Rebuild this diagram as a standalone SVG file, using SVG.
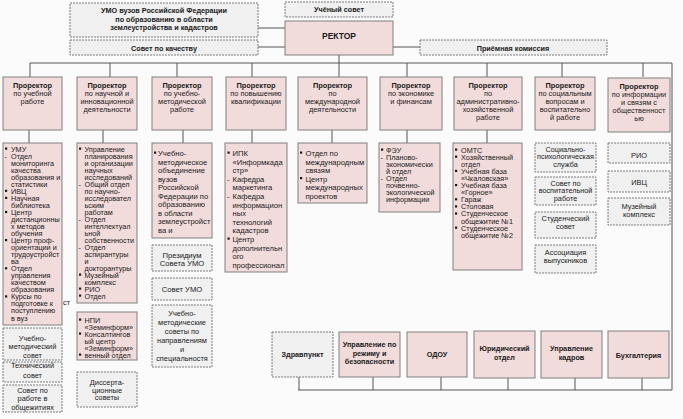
<svg xmlns="http://www.w3.org/2000/svg" width="683" height="419" viewBox="0 0 683 419">
<style>
.p{fill:#f2dcdb;stroke:#808080;stroke-width:1}
.g{fill:#f0f0f0;stroke:#7a7a7a;stroke-width:1;stroke-dasharray:2 1}
.ln{stroke:#555;stroke-width:1;fill:none}
text{font-family:"Liberation Sans",Arial,sans-serif;fill:#1a1a1a}
.t{font-size:7.25px}
.m{font-size:7.6px}
.s{font-size:7.4px}
.b{font-weight:bold}
.c{text-anchor:middle}
.bu{fill:#1a1a1a}
</style>
<defs><rect id="bl" width="2.2" height="2.2" class="bu"/></defs>
<rect x="0" y="0" width="683" height="419" fill="#fbfbfb"/>

<g id="connectors" class="ln">
<path d="M258 28H285M258 47H285M393 47H420M339 55V77"/>
<path d="M30 63H672V390H298"/>
<path d="M30 63V77M110 63V77M177 63V77M252 63V77M407 63V77M487 63V77M562 63V77M643 63V77"/>
<path d="M29 130V143M103 130V143M183 130V143M252 130V143M332 130V143M407 130V143M487 130V143"/>
<path d="M299 377V390M373 377V390M441 377V390M508 377V390M575 377V390M642 377V390"/>
</g>

<g id="umo"><rect class="g" x="70" y="3" width="188" height="34"/>
<text class="t b c" x="164"><tspan x="164" y="13">УМО вузов Российской Федерации</tspan><tspan x="164" y="21.5">по образованию в области</tspan><tspan x="164" y="30">землеустройства и кадастров</tspan></text></g>
<g id="sovet-kach"><rect class="g" x="70" y="40" width="188" height="15"/><text class="t b c" x="164" y="50.5">Совет по качеству</text></g>
<g id="uch-sovet"><rect class="g" x="285" y="2" width="108" height="15"/><text class="t b c" x="339" y="12">Учёный совет</text></g>
<g id="rector"><rect class="p" x="285" y="21" width="108" height="34"/><text class="b c" style="font-size:8.5px" x="339" y="39">РЕКТОР</text></g>
<g id="priem"><rect class="g" x="420" y="40" width="187" height="15"/><text class="t b c" x="513" y="50.5">Приёмная комиссия</text></g>

<g id="pr1"><rect class="p" x="3" y="77" width="59" height="53"/><text class="s c"><tspan class="b" x="32.5" y="88">Проректор</tspan><tspan x="32.5" y="96">по учебной</tspan><tspan x="32.5" y="104">работе</tspan></text></g>
<g id="pr2"><rect class="p" x="77" y="77" width="60" height="53"/><text class="s c"><tspan class="b" x="107" y="88">Проректор</tspan><tspan x="107" y="96">по научной и</tspan><tspan x="107" y="104">инновационной</tspan><tspan x="107" y="112">деятельности</tspan></text></g>
<g id="pr3"><rect class="p" x="152" y="77" width="60" height="53"/><text class="s c"><tspan class="b" x="182" y="88">Проректор</tspan><tspan x="182" y="96">по учебно-</tspan><tspan x="182" y="104">методической</tspan><tspan x="182" y="112">работе</tspan></text></g>
<g id="pr4"><rect class="p" x="226" y="77" width="60" height="53"/><text class="s c"><tspan class="b" x="256" y="88">Проректор</tspan><tspan x="256" y="96">по повышению</tspan><tspan x="256" y="104">квалификации</tspan></text></g>
<g id="pr5"><rect class="p" x="298" y="77" width="69" height="53"/><text class="s c"><tspan class="b" x="332.5" y="88">Проректор</tspan><tspan x="332.5" y="96">по</tspan><tspan x="332.5" y="104">международной</tspan><tspan x="332.5" y="112">деятельности</tspan></text></g>
<g id="pr6"><rect class="p" x="380" y="77" width="62" height="53"/><text class="s c"><tspan class="b" x="411" y="88">Проректор</tspan><tspan x="411" y="96">по экономике</tspan><tspan x="411" y="104">и финансам</tspan></text></g>
<g id="pr7"><rect class="p" x="454" y="77" width="68" height="53"/><text class="s c"><tspan class="b" x="488" y="88">Проректор</tspan><tspan x="488" y="96">по</tspan><tspan x="488" y="104">административно-</tspan><tspan x="488" y="112">хозяйственной</tspan><tspan x="488" y="120">работе</tspan></text></g>
<g id="pr8"><rect class="p" x="535" y="77" width="60" height="53"/><text class="s c"><tspan class="b" x="565" y="88">Проректор</tspan><tspan x="565" y="96">по социальным</tspan><tspan x="565" y="104">вопросам и</tspan><tspan x="565" y="112">воспитательно</tspan><tspan x="565" y="120">й работе</tspan></text></g>
<g id="pr9"><rect class="p" x="608" y="78" width="62" height="54"/><text class="s c"><tspan class="b" x="639" y="89">Проректор</tspan><tspan x="639" y="97">по информации</tspan><tspan x="639" y="105">и связям с</tspan><tspan x="639" y="113">общественност</tspan><tspan x="639" y="121">ью</tspan></text></g>

<g id="d1"><rect class="p" x="3" y="143" width="59" height="182"/>
<use href="#bl" x="5" y="147.5"/><use href="#bl" x="5" y="189.7"/><use href="#bl" x="5" y="196.8"/><use href="#bl" x="5" y="210.9"/><use href="#bl" x="5" y="239"/><use href="#bl" x="5" y="267.2"/><use href="#bl" x="5" y="295.3"/>
<text class="t"><tspan x="4.5" y="158.5">-</tspan><tspan x="11" y="151.5">УМУ</tspan><tspan x="11" y="158.5">Отдел</tspan><tspan x="11" y="165.6">мониторинга</tspan><tspan x="11" y="172.6">качества</tspan><tspan x="11" y="179.7">образования и</tspan><tspan x="11" y="186.7">статистики</tspan><tspan x="11" y="193.7">ИВЦ</tspan><tspan x="11" y="200.8">Научная</tspan><tspan x="11" y="207.8">библиотека</tspan><tspan x="11" y="214.9">Центр</tspan><tspan x="11" y="221.9">дистанционны</tspan><tspan x="11" y="228.9">х методов</tspan><tspan x="11" y="236">обучения</tspan><tspan x="11" y="243">Центр проф-</tspan><tspan x="11" y="250.1">ориентации и</tspan><tspan x="11" y="257.1">трудоустройст</tspan><tspan x="11" y="264.1">ва</tspan><tspan x="11" y="271.2">Отдел</tspan><tspan x="11" y="278.2">управления</tspan><tspan x="11" y="285.3">качеством</tspan><tspan x="11" y="292.3">образования</tspan><tspan x="11" y="299.3">Курсы по</tspan><tspan x="11" y="306.4">подготовке к</tspan><tspan x="11" y="313.4">поступлению</tspan><tspan x="11" y="320.5">в вуз</tspan></text>
<text class="t" x="63" y="305">ст</text></g>
<g id="d1b"><rect class="g" x="3" y="328" width="59" height="32"/><text class="s c"><tspan x="32.5" y="340.5">Учебно-</tspan><tspan x="32.5" y="349">методический</tspan><tspan x="32.5" y="357.5">совет</tspan></text></g>
<g id="d1c"><rect class="g" x="3" y="362" width="59" height="20"/><text class="s c"><tspan x="32.5" y="368">Технический</tspan><tspan x="32.5" y="377.5">совет</tspan></text></g>
<g id="d1d"><rect class="g" x="3" y="385" width="59" height="27"/><text class="s c"><tspan x="32.5" y="392.5">Совет по</tspan><tspan x="32.5" y="401">работе в</tspan><tspan x="32.5" y="409.5">общежитиях</tspan></text></g>

<g id="d2"><rect class="p" x="77" y="143" width="60" height="160"/>
<use href="#bl" x="79" y="147.5"/><use href="#bl" x="79" y="273.5"/><use href="#bl" x="79" y="287.5"/><use href="#bl" x="79" y="294.5"/>
<text class="t"><tspan x="78.5" y="186.5">-</tspan><tspan x="78.5" y="221.5">-</tspan><tspan x="78.5" y="249.5">-</tspan><tspan x="84.5" y="151.5">Управление</tspan><tspan x="84.5" y="158.5">планирования</tspan><tspan x="84.5" y="165.5">и организации</tspan><tspan x="84.5" y="172.5">научных</tspan><tspan x="84.5" y="179.5">исследований</tspan><tspan x="84.5" y="186.5">Общий отдел</tspan><tspan x="84.5" y="193.5">по научно-</tspan><tspan x="84.5" y="200.5">исследовател</tspan><tspan x="84.5" y="207.5">ьским</tspan><tspan x="84.5" y="214.5">работам</tspan><tspan x="84.5" y="221.5">Отдел</tspan><tspan x="84.5" y="228.5">интеллектуал</tspan><tspan x="84.5" y="235.5">ьной</tspan><tspan x="84.5" y="242.5">собственности</tspan><tspan x="84.5" y="249.5">Отдел</tspan><tspan x="84.5" y="256.5">аспирантуры</tspan><tspan x="84.5" y="263.5">и</tspan><tspan x="84.5" y="270.5">докторантуры</tspan><tspan x="84.5" y="277.5">Музейный</tspan><tspan x="84.5" y="284.5">комплекс</tspan><tspan x="84.5" y="291.5">РИО</tspan><tspan x="84.5" y="298.5">Отдел</tspan></text></g>
<g id="d2b"><rect class="p" x="77" y="312" width="60" height="48"/>
<use href="#bl" x="79" y="318.5"/><use href="#bl" x="79" y="332.5"/><use href="#bl" x="79" y="353.5"/>
<text class="t"><tspan x="84.5" y="322.5">НПИ</tspan><tspan x="84.5" y="329.5">«Земинформ»</tspan><tspan x="84.5" y="336.5">Консалтингов</tspan><tspan x="84.5" y="343.5">ый центр</tspan><tspan x="84.5" y="350.5">«Земинформ»</tspan><tspan x="84.5" y="357.5">венный отдел</tspan></text></g>
<g id="d2c"><rect class="g" x="77" y="372" width="60" height="35"/><text class="s c"><tspan x="107" y="385">Диссерта-</tspan><tspan x="107" y="392.5">ционные</tspan><tspan x="107" y="400">советы</tspan></text></g>

<g id="d3"><rect class="p" x="152" y="143" width="60" height="95"/>
<use href="#bl" x="154" y="151.5"/>
<text class="m"><tspan x="158" y="156">Учебно-</tspan><tspan x="158" y="164.5">методическое</tspan><tspan x="158" y="173">объединение</tspan><tspan x="158" y="181.5">вузов</tspan><tspan x="158" y="190">Российской</tspan><tspan x="158" y="198.5">Федерации по</tspan><tspan x="158" y="207">образованию</tspan><tspan x="158" y="215.5">в области</tspan><tspan x="158" y="224">землеустройст</tspan><tspan x="158" y="232.5">ва и</tspan></text></g>
<g id="d3b"><rect class="g" x="152" y="245" width="60" height="26"/><text class="m c"><tspan x="182" y="257.5">Президиум</tspan><tspan x="182" y="266">Совета УМО</tspan></text></g>
<g id="d3c"><rect class="g" x="152" y="278" width="60" height="22"/><text class="m c" x="182" y="291.5">Совет УМО</text></g>
<g id="d3d"><rect class="g" x="152" y="305" width="60" height="62"/><text class="s c"><tspan x="182" y="316">Учебно-</tspan><tspan x="182" y="325">методические</tspan><tspan x="182" y="334">советы по</tspan><tspan x="182" y="342.5">направлениям</tspan><tspan x="182" y="351.5">и</tspan><tspan x="182" y="360.5">специальностя</tspan></text></g>

<g id="d4"><rect class="p" x="225" y="143" width="62" height="129"/>
<use href="#bl" x="227.5" y="151.5"/><use href="#bl" x="227.5" y="237.5"/>
<text class="m"><tspan x="227" y="181.8">-</tspan><tspan x="227" y="199">-</tspan><tspan x="232.5" y="156">ИПК</tspan><tspan x="232.5" y="164.6">«Информкада</tspan><tspan x="232.5" y="173.2">стр»</tspan><tspan x="232.5" y="181.8">Кафедра</tspan><tspan x="232.5" y="190.4">маркетинга</tspan><tspan x="232.5" y="199">Кафедра</tspan><tspan x="232.5" y="207.6">информацион</tspan><tspan x="232.5" y="216.2">ных</tspan><tspan x="232.5" y="224.8">технологий</tspan><tspan x="232.5" y="233.4">кадастров</tspan><tspan x="232.5" y="242">Центр</tspan><tspan x="232.5" y="250.6">дополнительн</tspan><tspan x="232.5" y="259.2">ого</tspan><tspan x="232.5" y="267.8">профессионал</tspan></text></g>

<g id="d5"><rect class="p" x="298" y="143" width="69" height="60"/>
<use href="#bl" x="300" y="151.5"/><use href="#bl" x="300" y="177"/>
<text class="m"><tspan x="305.5" y="156">Отдел по</tspan><tspan x="305.5" y="164.5">международным</tspan><tspan x="305.5" y="173">связям</tspan><tspan x="305.5" y="181.5">Центр</tspan><tspan x="305.5" y="190">международных</tspan><tspan x="305.5" y="198.5">проектов</tspan></text></g>

<g id="d6"><rect class="p" x="379" y="143" width="61" height="69"/>
<use href="#bl" x="381" y="148.5"/>
<text class="t"><tspan x="380.5" y="159.6">-</tspan><tspan x="380.5" y="180.9">-</tspan><tspan x="386" y="152.5">ФЭУ</tspan><tspan x="386" y="159.6">Планово-</tspan><tspan x="386" y="166.7">экономически</tspan><tspan x="386" y="173.8">й отдел</tspan><tspan x="386" y="180.9">Отдел</tspan><tspan x="386" y="188">почвенно-</tspan><tspan x="386" y="195.1">экологической</tspan><tspan x="386" y="202.2">информации</tspan></text></g>

<g id="d7"><rect class="p" x="453" y="143" width="69" height="127"/>
<use href="#bl" x="455" y="148.5"/><use href="#bl" x="455" y="155.6"/><use href="#bl" x="455" y="169.8"/><use href="#bl" x="455" y="184"/><use href="#bl" x="455" y="198.2"/><use href="#bl" x="455" y="205.3"/><use href="#bl" x="455" y="212.4"/><use href="#bl" x="455" y="226.6"/>
<text class="t"><tspan x="461" y="152.5">ОМТС</tspan><tspan x="461" y="159.6">Хозяйственный</tspan><tspan x="461" y="166.7">отдел</tspan><tspan x="461" y="173.8">Учебная база</tspan><tspan x="461" y="180.9">«Чкаловская»</tspan><tspan x="461" y="188">Учебная база</tspan><tspan x="461" y="195.1">«Горное»</tspan><tspan x="461" y="202.2">Гараж</tspan><tspan x="461" y="209.3">Столовая</tspan><tspan x="461" y="216.4">Студенческое</tspan><tspan x="461" y="223.5">общежитие №1</tspan><tspan x="461" y="230.6">Студенческое</tspan><tspan x="461" y="237.7">общежитие №2</tspan></text></g>

<g id="g1"><rect class="g" x="535" y="143" width="61" height="29"/><text class="t c"><tspan x="565.5" y="151.5">Социально-</tspan><tspan x="565.5" y="159">психологическая</tspan><tspan x="565.5" y="166.5">служба</tspan></text></g>
<g id="g2"><rect class="g" x="535" y="177" width="61" height="28"/><text class="t c"><tspan x="565.5" y="185.5">Совет по</tspan><tspan x="565.5" y="193">воспитательной</tspan><tspan x="565.5" y="200.5">работе</tspan></text></g>
<g id="g3"><rect class="g" x="535" y="212" width="61" height="26"/><text class="s c"><tspan x="565.5" y="221">Студенческий</tspan><tspan x="565.5" y="229">совет</tspan></text></g>
<g id="g4"><rect class="g" x="535" y="245" width="61" height="28"/><text class="s c"><tspan x="565.5" y="255">Ассоциация</tspan><tspan x="565.5" y="263">выпускников</tspan></text></g>

<g id="h1"><rect class="g" x="608" y="143" width="62" height="20"/><text class="s c" x="639" y="157.5">РИО</text></g>
<g id="h2"><rect class="g" x="608" y="171" width="62" height="21"/><text class="s c" x="639" y="184.5">ИВЦ</text></g>
<g id="h3"><rect class="g" x="608" y="198" width="62" height="27"/><text class="s c"><tspan x="639" y="208.5">Музейный</tspan><tspan x="639" y="216.5">комплекс</tspan></text></g>

<g id="zdrav"><rect class="g" x="272" y="332" width="61" height="45"/><text class="t b c" x="302.5" y="357">Здравпункт</text></g>
<g id="rezhim"><rect class="p" x="339" y="332" width="61" height="45"/><text class="t b c"><tspan x="369.5" y="347">Управление по</tspan><tspan x="369.5" y="355.5">режиму и</tspan><tspan x="369.5" y="364">безопасности</tspan></text></g>
<g id="odou"><rect class="p" x="407" y="332" width="60" height="45"/><text class="t b c" x="437" y="357">ОДОУ</text></g>
<g id="yur"><rect class="p" x="474" y="331" width="61" height="47"/><text class="t b c"><tspan x="504.5" y="351">Юридический</tspan><tspan x="504.5" y="359.5">отдел</tspan></text></g>
<g id="kadry"><rect class="p" x="541" y="331" width="61" height="47"/><text class="t b c"><tspan x="571.5" y="351">Управление</tspan><tspan x="571.5" y="359.5">кадров</tspan></text></g>
<g id="buh"><rect class="p" x="608" y="331" width="61" height="47"/><text class="t b c" x="638.5" y="357.5">Бухгалтерия</text></g>
</svg>
